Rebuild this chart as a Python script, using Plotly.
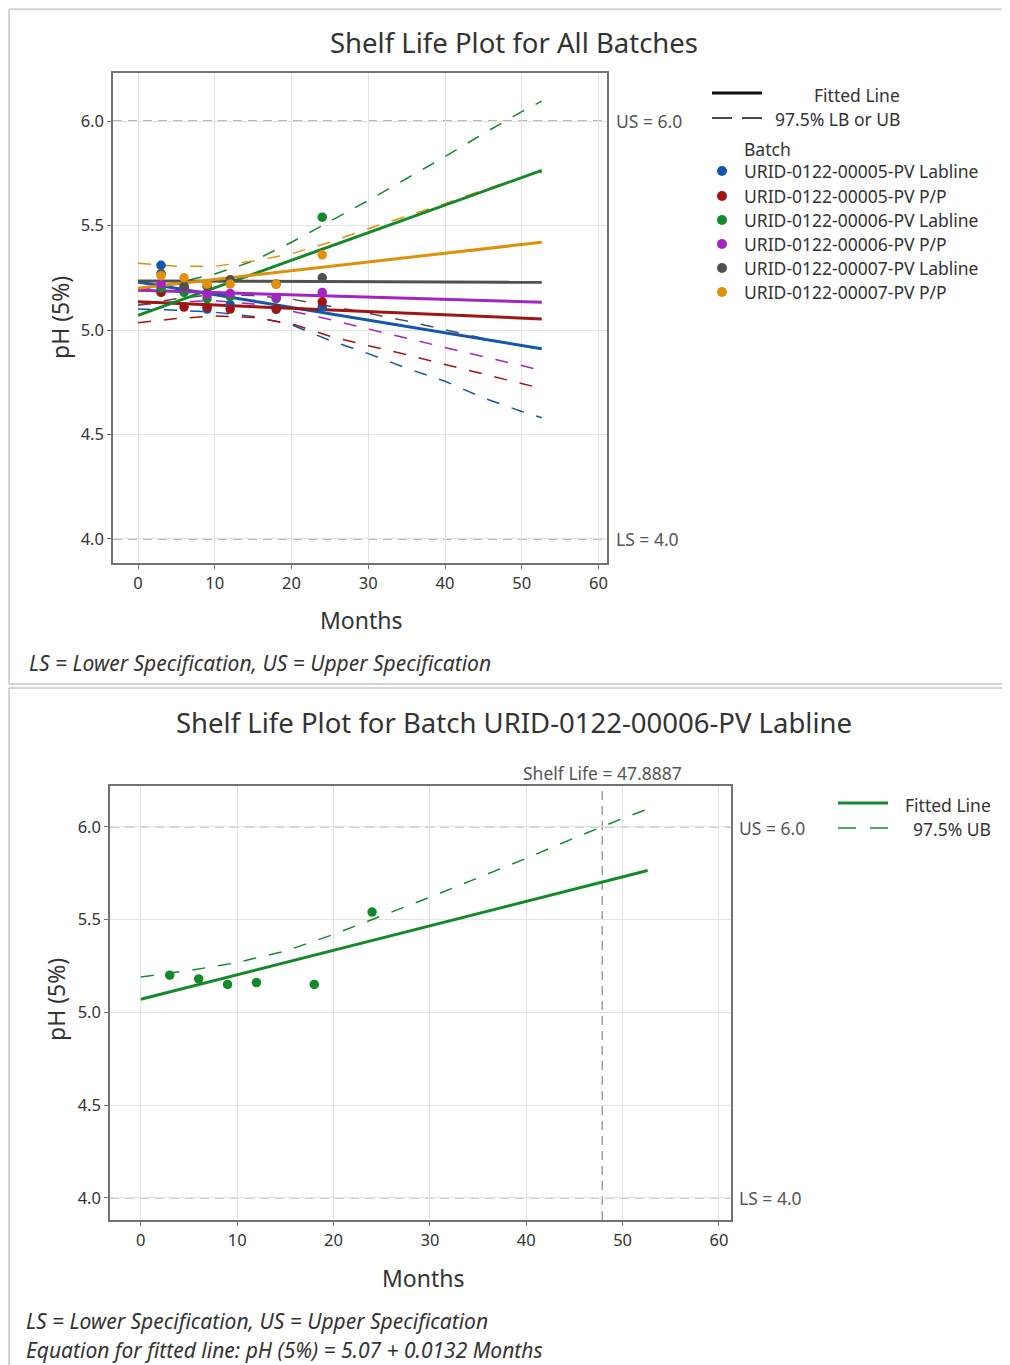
import plotly.graph_objects as go

# ---------------- data ----------------
months = [3, 6, 9, 12, 18, 24]
batches = ["URID-0122-00005-PV Labline", "URID-0122-00005-PV P/P",
           "URID-0122-00006-PV Labline", "URID-0122-00006-PV P/P",
           "URID-0122-00007-PV Labline", "URID-0122-00007-PV P/P"]
ph_b05_lab = [5.31, 5.19, 5.10, 5.12, 5.10, 5.11]
ph_b05_pp = [5.18, 5.11, 5.11, 5.10, 5.10, 5.135]
ph_b06_lab = [5.20, 5.18, 5.15, 5.16, 5.15, 5.54]
ph_b06_pp = [5.22, 5.20, 5.17, 5.175, 5.155, 5.18]
ph_b07_lab = [5.27, 5.21, 5.21, 5.24, 5.22, 5.25]
ph_b07_pp = [5.26, 5.25, 5.22, 5.22, 5.22, 5.36]

fit_months = [0, 52.6]
fit_b05_lab = [5.23, 4.91]
fit_b05_pp = [5.135, 5.053]
fit_b06_lab = [5.07, 5.764]
fit_b06_pp = [5.19, 5.133]
fit_b07_lab = [5.235, 5.228]
fit_b07_pp = [5.20, 5.42]

bound_months = [0, 5, 10, 15, 20, 25, 30, 35, 40, 45, 50, 52.6]
lb_b05_lab = [5.10, 5.095, 5.085, 5.065, 5.025, 4.95, 4.887, 4.817, 4.755, 4.675, 4.61, 4.58]
lb_b05_pp = [5.035, 5.055, 5.067, 5.06, 5.03, 4.97, 4.925, 4.882, 4.835, 4.788, 4.742, 4.72]
ub_b06_lab = [5.19, 5.225, 5.268, 5.33, 5.42, 5.52, 5.62, 5.725, 5.83, 5.94, 6.045, 6.095]
lb_b06_pp = [5.12, 5.135, 5.14, 5.125, 5.09, 5.05, 5.005, 4.96, 4.917, 4.872, 4.83, 4.805]
lb_b07_lab = [5.12, 5.15, 5.17, 5.165, 5.148, 5.115, 5.08, 5.043, 5.0, 4.96, 4.925, 4.908]
ub_b07_pp = [5.32, 5.305, 5.305, 5.33, 5.365, 5.42, 5.485, 5.545, 5.605, 5.67, 5.73, 5.755]

upper_spec = 6.0
lower_spec = 4.0
shelf_life = 47.8887
x_ticks = [0, 10, 20, 30, 40, 50, 60]
y_ticks = [4.0, 4.5, 5.0, 5.5, 6.0]

# ---------------- styling ----------------
colors = ["#1257ad", "#a01414", "#138a2a", "#a323c4", "#505050", "#e0900a"]
points = [ph_b05_lab, ph_b05_pp, ph_b06_lab, ph_b06_pp, ph_b07_lab, ph_b07_pp]
fits = [fit_b05_lab, fit_b05_pp, fit_b06_lab, fit_b06_pp, fit_b07_lab, fit_b07_pp]
bounds = [lb_b05_lab, lb_b05_pp, ub_b06_lab, lb_b06_pp, lb_b07_lab, ub_b07_pp]

OFF = 8  # browser body margin
W, H = 1010 - OFF, 1365 - OFF
FONT = "Noto Sans"
TXT = "#333333"


def px(x):
    return (x - OFF) / W


def py(y):
    return 1 - (y - OFF) / H


fig = go.Figure()

# top panel traces
for c, b in zip(colors, bounds):
    fig.add_trace(go.Scatter(x=bound_months, y=b, mode="lines", xaxis="x", yaxis="y",
                             line=dict(color=c, width=1.5, dash="13px,13px"),
                             showlegend=False, hoverinfo="skip"))
for c, f in zip(colors, fits):
    fig.add_trace(go.Scatter(x=fit_months, y=f, mode="lines", xaxis="x", yaxis="y",
                             line=dict(color=c, width=3), showlegend=False, hoverinfo="skip"))
for c, p, name in zip(colors, points, batches):
    fig.add_trace(go.Scatter(x=months, y=p, mode="markers", xaxis="x", yaxis="y", name=name,
                             marker=dict(color=c, size=9.5), showlegend=False))

# bottom panel traces
fig.add_trace(go.Scatter(x=bound_months, y=ub_b06_lab, mode="lines", xaxis="x2", yaxis="y2",
                         line=dict(color=colors[2], width=1.5, dash="13px,13px"),
                         showlegend=False, hoverinfo="skip"))
fig.add_trace(go.Scatter(x=fit_months, y=fit_b06_lab, mode="lines", xaxis="x2", yaxis="y2",
                         line=dict(color=colors[2], width=3), showlegend=False, hoverinfo="skip"))
fig.add_trace(go.Scatter(x=months, y=ph_b06_lab, mode="markers", xaxis="x2", yaxis="y2",
                         marker=dict(color=colors[2], size=9.5), showlegend=False))

axis_common = dict(showgrid=True, gridcolor="#e3e3e3", gridwidth=1, zeroline=False,
                   showline=True, linecolor="#737373", linewidth=1.5, mirror=True,
                   ticks="outside", ticklen=4, tickcolor="#737373",
                   tickfont=dict(family=FONT, size=16.5, color=TXT))

fig.update_layout(
    width=W, height=H, margin=dict(l=0, r=0, t=0, b=0),
    paper_bgcolor="white", plot_bgcolor="white", showlegend=False,
    xaxis=dict(domain=[px(113), px(607)], range=[-3.26, 61.1], tickvals=x_ticks,
               anchor="y", **axis_common),
    yaxis=dict(domain=[py(563), py(73)], range=[3.885, 6.23], tickvals=y_ticks,
               tickformat=".1f", anchor="x", **axis_common),
    xaxis2=dict(domain=[px(110), px(731)], range=[-3.2, 61.25], tickvals=x_ticks,
                anchor="y2", **axis_common),
    yaxis2=dict(domain=[py(1220), py(786)], range=[3.88, 6.22], tickvals=y_ticks,
                tickformat=".1f", anchor="x2", **axis_common),
)

shapes = []
frame = dict(color="#d4d4d4", width=2)
# panel frames (left, top, bottom edges only)
for y_top, y_bot in ((0.999, py(684)), (py(688), -0.01)):
    shapes.append(dict(type="line", xref="paper", yref="paper", x0=0.001, x1=0.001,
                       y0=y_bot, y1=y_top, line=frame))
    shapes.append(dict(type="line", xref="paper", yref="paper", x0=0.001, x1=1.01,
                       y0=y_top, y1=y_top, line=frame))
    shapes.append(dict(type="line", xref="paper", yref="paper", x0=0.001, x1=1.01,
                       y0=y_bot, y1=y_bot, line=frame))
# spec lines
for xr, yr in (("x domain", "y"), ("x2 domain", "y2")):
    for v in (upper_spec, lower_spec):
        shapes.append(dict(type="line", xref=xr, yref=yr, x0=0, x1=1, y0=v, y1=v,
                           line=dict(color="#a0a0a0", width=1.5, dash="9px,6px"), layer="below"))
# shelf life vertical line
shapes.append(dict(type="line", xref="x2", yref="y2 domain", x0=shelf_life, x1=shelf_life,
                   y0=0, y1=1, line=dict(color="#a0a0a0", width=1.5, dash="9px,6px"), layer="below"))

# top legend samples
shapes.append(dict(type="line", xref="paper", yref="paper", x0=px(712), x1=px(762),
                   y0=py(93), y1=py(93), line=dict(color="#111111", width=3)))
shapes.append(dict(type="line", xref="paper", yref="paper", x0=px(712), x1=px(762),
                   y0=py(118), y1=py(118), line=dict(color="#111111", width=1.5, dash="20px,10px")))
# bottom legend samples
shapes.append(dict(type="line", xref="paper", yref="paper", x0=px(838), x1=px(888),
                   y0=py(803), y1=py(803), line=dict(color=colors[2], width=3)))
shapes.append(dict(type="line", xref="paper", yref="paper", x0=px(838), x1=px(888),
                   y0=py(828), y1=py(828), line=dict(color=colors[2], width=1.5, dash="18px,14px")))
# top legend markers
leg_y = [171, 196, 220, 244, 268, 292]
for c, yy in zip(colors, leg_y):
    shapes.append(dict(type="circle", xref="paper", yref="paper",
                       x0=px(717), x1=px(727), y0=py(yy + 5), y1=py(yy - 5),
                       fillcolor=c, line=dict(color=c, width=0)))
fig.update_layout(shapes=shapes)

ann = []


def text(x, y, s, size=15, xanchor="left", color=TXT, italic=False, angle=0):
    st = "italic" if italic else "normal"
    ann.append(dict(xref="paper", yref="paper", x=px(x), y=py(y), text=s, showarrow=False,
                    xanchor=xanchor, yanchor="middle", textangle=angle,
                    font=dict(family=FONT, size=size, color=color, style=st)))


# titles
text(514, 43, "Shelf Life Plot for All Batches", size=27.5, xanchor="center")
text(514, 722, "Shelf Life Plot for Batch URID-0122-00006-PV Labline", size=27.5, xanchor="center")
# axis titles
text(60, 318, "pH (5%)", size=23, xanchor="center", angle=-90)
text(361, 620, "Months", size=23, xanchor="center")
text(56, 1000, "pH (5%)", size=23, xanchor="center", angle=-90)
text(423, 1278, "Months", size=23, xanchor="center")
# spec labels
text(614, 121, "US = 6.0", size=17.5, color="#555555")
text(614, 539, "LS = 4.0", size=17.5, color="#555555")
text(737, 828, "US = 6.0", size=17.5, color="#555555")
text(737, 1198, "LS = 4.0", size=17.5, color="#555555")
text(602, 773, "Shelf Life = 47.8887", size=17.5, xanchor="center", color="#555555")
# top legend
text(902, 95, "Fitted Line", size=17.5, xanchor="right")
text(902, 119, "97.5% LB or UB", size=17.5, xanchor="right")
text(742, 149, "Batch", size=17.5)
for name, yy in zip(batches, leg_y):
    text(742, yy, name, size=17.5)
# bottom legend
text(993, 805, "Fitted Line", size=17.5, xanchor="right")
text(993, 829, "97.5% UB", size=17.5, xanchor="right")
# footnotes
text(27, 663, "LS = Lower Specification, US = Upper Specification", size=21, italic=True)
text(24, 1321, "LS = Lower Specification, US = Upper Specification", size=21, italic=True)
text(24, 1350, "Equation for fitted line: pH (5%) = 5.07 + 0.0132 Months", size=21, italic=True)

fig.update_layout(annotations=ann)
fig.write_html("out.html")
